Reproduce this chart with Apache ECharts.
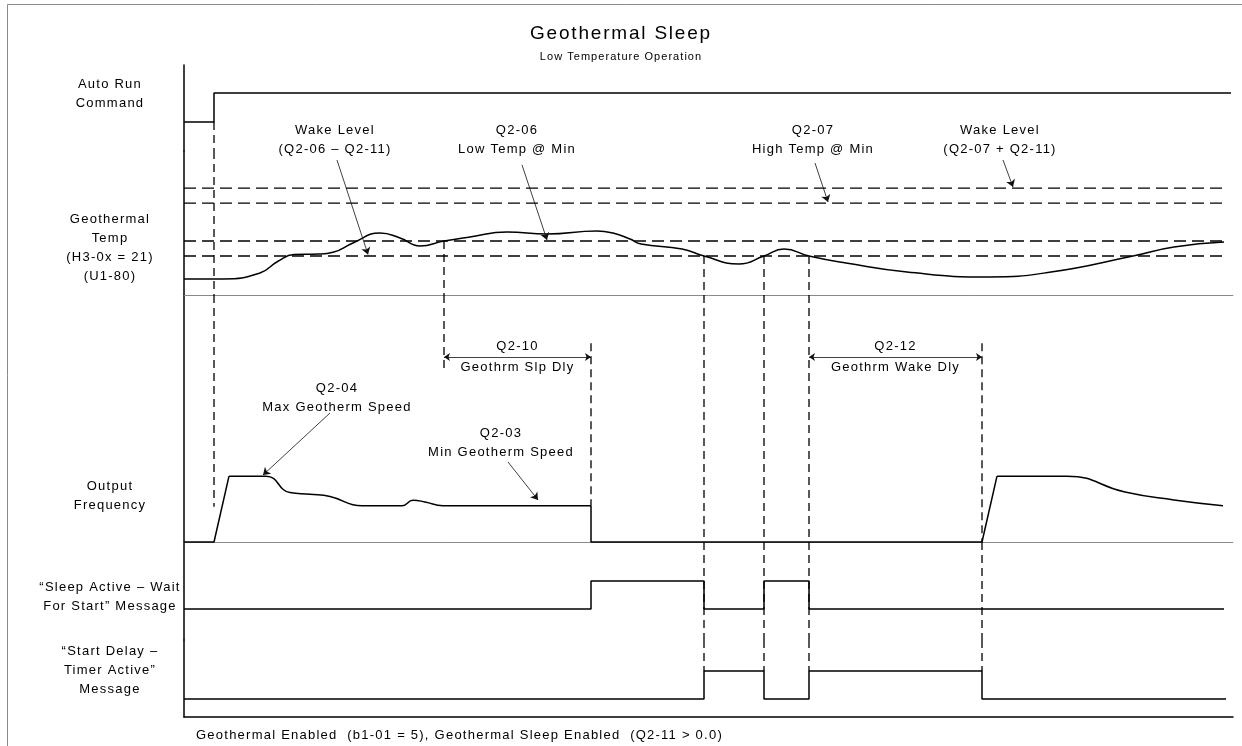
<!DOCTYPE html>
<html><head><meta charset="utf-8">
<script src="https://cdn.jsdelivr.net/npm/echarts@6/dist/echarts.min.js"></script>
<style>html,body{margin:0;padding:0;background:#fff}#c{width:1242px;height:746px}</style>
</head><body><div id="c"></div>
<script>
// ================= DATA (time in arbitrary units) =================
// Auto Run Command (0 = off, 1 = on), step edges
const runEdges  = [0, 3.0, 104.7];
const runLevels = [0, 1, 1];

// Geothermal temperature (U1-80)
const tempTime  = [0, 3.9, 7.6, 9.4, 11.0, 13.4, 14.9, 16.9, 19.6, 21.6, 23.6, 26.0, 28.6, 32.3, 36.3, 41.3, 42.9, 44.6, 45.7, 49.8, 52.0, 55.5, 58.0, 60.0, 62.5, 66.2, 72.3, 80.5, 86.7, 94.9, 99.0, 104.0];
const tempValue = [17.47, 17.47, 17.87, 18.65, 19.1, 19.13, 19.25, 19.87, 20.53, 20.2, 19.67, 20.0, 20.27, 20.6, 20.47, 20.67, 20.53, 20.13, 19.8, 19.47, 19.0, 18.47, 19.0, 19.47, 19.0, 18.53, 17.93, 17.6, 17.93, 19.0, 19.6, 19.93];

// Temperature levels: Wake (Q2-07 + Q2-11), Q2-07, Q2-06, Wake (Q2-06 - Q2-11)
const tempLevels = [23.53, 22.53, 20.0, 19.0];
const tempLevelEnd = 104.0;

// Output frequency (Hz)
const freqRiseTime  = [0, 3.0, 4.5];
const freqRiseHz    = [0, 0, 60];
const freqRunTime   = [4.5, 8.2, 10.6, 12.6, 14.6, 17.8, 21.8, 22.9, 24.1, 25.9, 40.7];
const freqRunHz     = [60, 60, 45, 43.5, 41.5, 33, 33, 38, 36.5, 33, 33];
const freqSleepTime = [40.7, 40.7, 79.8, 81.3];
const freqSleepHz   = [33, 0, 0, 60];
const freqWakeTime  = [81.3, 88.3, 94.1, 99.0, 103.9];
const freqWakeHz    = [60, 60, 45.5, 38.3, 33];

// "Sleep Active - Wait For Start" message
const sleepEdges  = [0, 40.7, 52.0, 58.0, 62.5, 104.0];
const sleepLevels = [0, 1, 0, 1, 0, 0];

// "Start Delay - Timer Active" message
const startEdges  = [0, 52.0, 58.0, 62.5, 79.8, 104.2];
const startLevels = [0, 1, 0, 1, 0, 0];

// Event times (vertical guides)
const eventTimes = [3.0, 26.0, 40.7, 52.0, 58.0, 62.5, 79.8];

// Text
const laneLabels = ['Auto Run\nCommand', 'Geothermal\nTemp\n(H3-0x = 21)\n(U1-80)', 'Output\nFrequency',
  '\u201CSleep Active \u2013 Wait\nFor Start\u201D Message', '\u201CStart Delay \u2013\nTimer Active\u201D\nMessage'];
const tempNotes = ['Wake Level\n(Q2-06 \u2013 Q2-11)', 'Q2-06\nLow Temp @ Min', 'Q2-07\nHigh Temp @ Min', 'Wake Level\n(Q2-07 + Q2-11)'];
const freqNotes = ['Q2-04\nMax Geotherm Speed', 'Q2-03\nMin Geotherm Speed'];
const delayNotes = ['Q2-10\nGeothrm Slp Dly', 'Q2-12\nGeothrm Wake Dly'];
const footText = 'Geothermal Enabled  (b1-01 = 5), Geothermal Sleep Enabled  (Q2-11 > 0.0)';

// ================= LAYOUT =================
// the reference typesetting uses wide letter spacing (about 0.1 em)
(function () {
  const P = CanvasRenderingContext2D.prototype;
  const d = Object.getOwnPropertyDescriptor(P, 'font');
  if (d && d.set && ('letterSpacing' in P)) {
    Object.defineProperty(P, 'font', {
      configurable: true,
      get: function () { return d.get.call(this); },
      set: function (v) {
        d.set.call(this, v);
        const m = /(\d+(?:\.\d+)?)px/.exec(String(v));
        const size = m ? parseFloat(m[1]) : 12;
        this.letterSpacing = (size * 0.095).toFixed(2) + 'px';
      }
    });
  }
})();
const FONT = 'Liberation Sans';
const PLOT_LEFT = 184, PLOT_W = 1049, T_MAX = 104.9;
const lanes = [
  {top: 65,  height: 86,  min: -1,      max: 1.9655},
  {top: 151, height: 144, min: 16.4,    max: 26,     xLine: '#8a8a8a', xW: 1},
  {top: 295, height: 247, min: 0,       max: 225,    xLine: '#8a8a8a', xW: 1},
  {top: 542, height: 98,  min: -1.1071, max: 2.3929},
  {top: 640, height: 77,  min: -0.6429, max: 2.1071, xLine: '#000', xW: 1.5}
];
const labelY = [94, 248, 496, 597, 670];

// guide spans per event (lane: [from, to]); 'min'/'max' = lane edges
const guideSpans = [
  {0: [0, 'min'], 1: ['max', 'min'], 2: ['max', 32]},
  {1: [20, 'min'], 2: ['max', 154]},
  {2: [181, 33]},
  {1: [19, 'min'], 2: ['max', 'min'], 3: ['max', 'min'], 4: ['max', 1]},
  {1: [19, 'min'], 2: ['max', 'min'], 3: ['max', 'min'], 4: ['max', 1]},
  {1: [19, 'min'], 2: ['max', 'min'], 3: ['max', 'min'], 4: ['max', 1]},
  {2: [181, 'min'], 3: ['max', 'min'], 4: ['max', 1]}
];
// annotation placements (lane data units)
const tempNotePos = [[15.1, 26.73], [33.3, 26.73], [62.9, 26.73], [81.6, 26.73]];
const tempPointers = [[[15.3, 25.4], [18.4, 19.1]], [[33.8, 25.07], [36.3, 20.07]], [[63.1, 25.2], [64.4, 22.6]], [[81.9, 25.4], [82.9, 23.6]]];
const freqNotePos = [[15.3, 131.2], [31.7, 90.2]];
const freqPointers = [[[14.6, 117.5], [7.9, 61]], [[32.4, 72.9], [35.4, 38.3]]];
const dimY = 168.5;
const dimSpans = [[eventTimes[1], eventTimes[2]], [eventTimes[5], eventTimes[6]]];

// ================= BUILD =================
const zip = (a, b) => a.map((v, i) => [v, b[i]]);
const grid = lanes.map(l => ({left: PLOT_LEFT, width: PLOT_W, top: l.top, height: l.height}));
const xAxis = lanes.map((l, i) => ({
  gridIndex: i, type: 'value', min: 0, max: T_MAX,
  axisLine: {show: !!l.xLine, onZero: false, lineStyle: {color: l.xLine || '#000', width: l.xW || 1}},
  axisTick: {show: false}, axisLabel: {show: false}, splitLine: {show: false}
}));
const yAxis = lanes.map((l, i) => ({
  gridIndex: i, type: 'value', min: l.min, max: l.max,
  axisLine: {show: true, onZero: false, lineStyle: {color: '#000', width: 1.5}},
  axisTick: {show: false}, axisLabel: {show: false}, splitLine: {show: false}
}));

const series = [];
const solid = {color: '#000', width: 1.5};
function line(lane, data, extra) {
  series.push(Object.assign({type: 'line', xAxisIndex: lane, yAxisIndex: lane, data: data, symbol: 'none',
    silent: true, clip: false, lineStyle: solid}, extra || {}));
}
const arrowStyle = {color: '#111', width: 0.8, type: 'solid'};
function pointerLine(pairs) {
  return {silent: true, symbol: ['none', 'arrow'], symbolSize: 7, label: {show: false}, lineStyle: arrowStyle,
    emphasis: {disabled: true},
    data: pairs.map(p => [{coord: p[0]}, {coord: p[1]}])};
}

// signals
line(0, zip(runEdges, runLevels), {step: 'end'});
line(1, zip(tempTime, tempValue), {smooth: 0.5, markLine: pointerLine(tempPointers)});
tempLevels.forEach(v => line(1, [[0, v], [tempLevelEnd, v]], {lineStyle: {color: '#000', width: 1.3, type: [12, 6]}}));
line(2, zip(freqRiseTime, freqRiseHz));
line(2, zip(freqRunTime, freqRunHz), {smooth: 0.5, markLine: pointerLine(freqPointers)});
line(2, zip(freqSleepTime, freqSleepHz), {
  markLine: {silent: true, symbol: ['arrow', 'arrow'], symbolSize: 6, label: {show: false}, lineStyle: arrowStyle,
    emphasis: {disabled: true},
    data: dimSpans.map(s => [{coord: [s[0], dimY]}, {coord: [s[1], dimY]}])}
});
line(2, zip(freqWakeTime, freqWakeHz), {smooth: 0.5});
line(3, zip(sleepEdges, sleepLevels), {step: 'end'});
line(4, zip(startEdges, startLevels), {step: 'end'});

// vertical guides
eventTimes.forEach((t, k) => {
  const spans = guideSpans[k];
  Object.keys(spans).forEach(key => {
    const lane = +key, l = lanes[lane];
    const sp = spans[key].map(v => v === 'min' ? l.min : v === 'max' ? l.max : v);
    line(lane, [[t, sp[0]], [t, sp[1]]], {lineStyle: {color: '#000', width: 1.3, type: [8, 5]}});
  });
});

const baseGraphic = [
  {type: 'rect', silent: true, shape: {x: 7.5, y: 4.5, width: 1300, height: 800}, style: {fill: 'none', stroke: '#8a8a8a', lineWidth: 1}},
  {type: 'text', silent: true, style: {text: footText, x: 196, y: 735, textAlign: 'left', textVerticalAlign: 'middle', fontSize: 13, fontFamily: FONT, fill: '#000'}}
].concat(laneLabels.map((txt, i) => ({type: 'text', silent: true,
  style: {text: txt, x: 110, y: labelY[i], textAlign: 'center', textVerticalAlign: 'middle', fontSize: 13, fontFamily: FONT, lineHeight: 19, fill: '#000'}})));

const chart = echarts.init(document.getElementById('c'));
chart.setOption({
  animation: false,
  backgroundColor: '#fff',
  title: {text: 'Geothermal Sleep', subtext: 'Low Temperature Operation', left: 'center', top: 18, itemGap: 7,
    textStyle: {fontSize: 19, fontWeight: 'normal', color: '#000', fontFamily: FONT},
    subtextStyle: {fontSize: 11, color: '#000', fontFamily: FONT}},
  grid: grid, xAxis: xAxis, yAxis: yAxis, series: series, graphic: baseGraphic
});

// annotation texts placed at data coordinates of their lane
function noteTexts(lane, texts, pos, lh) {
  return texts.map((txt, i) => {
    const p = chart.convertToPixel({xAxisIndex: lane, yAxisIndex: lane}, pos[i]);
    return {type: 'text', silent: true, style: {text: txt, x: p[0], y: p[1], textAlign: 'center', textVerticalAlign: 'middle',
      fontSize: 13, fontFamily: FONT, lineHeight: lh, fill: '#000'}};
  });
}
const notes = [].concat(
  noteTexts(1, tempNotes, tempNotePos, 19),
  noteTexts(2, freqNotes, freqNotePos, 19),
  noteTexts(2, delayNotes, dimSpans.map(s => [(s[0] + s[1]) / 2, dimY]), 21)
);
chart.setOption({graphic: baseGraphic.concat(notes)});
</script>
</body></html>
